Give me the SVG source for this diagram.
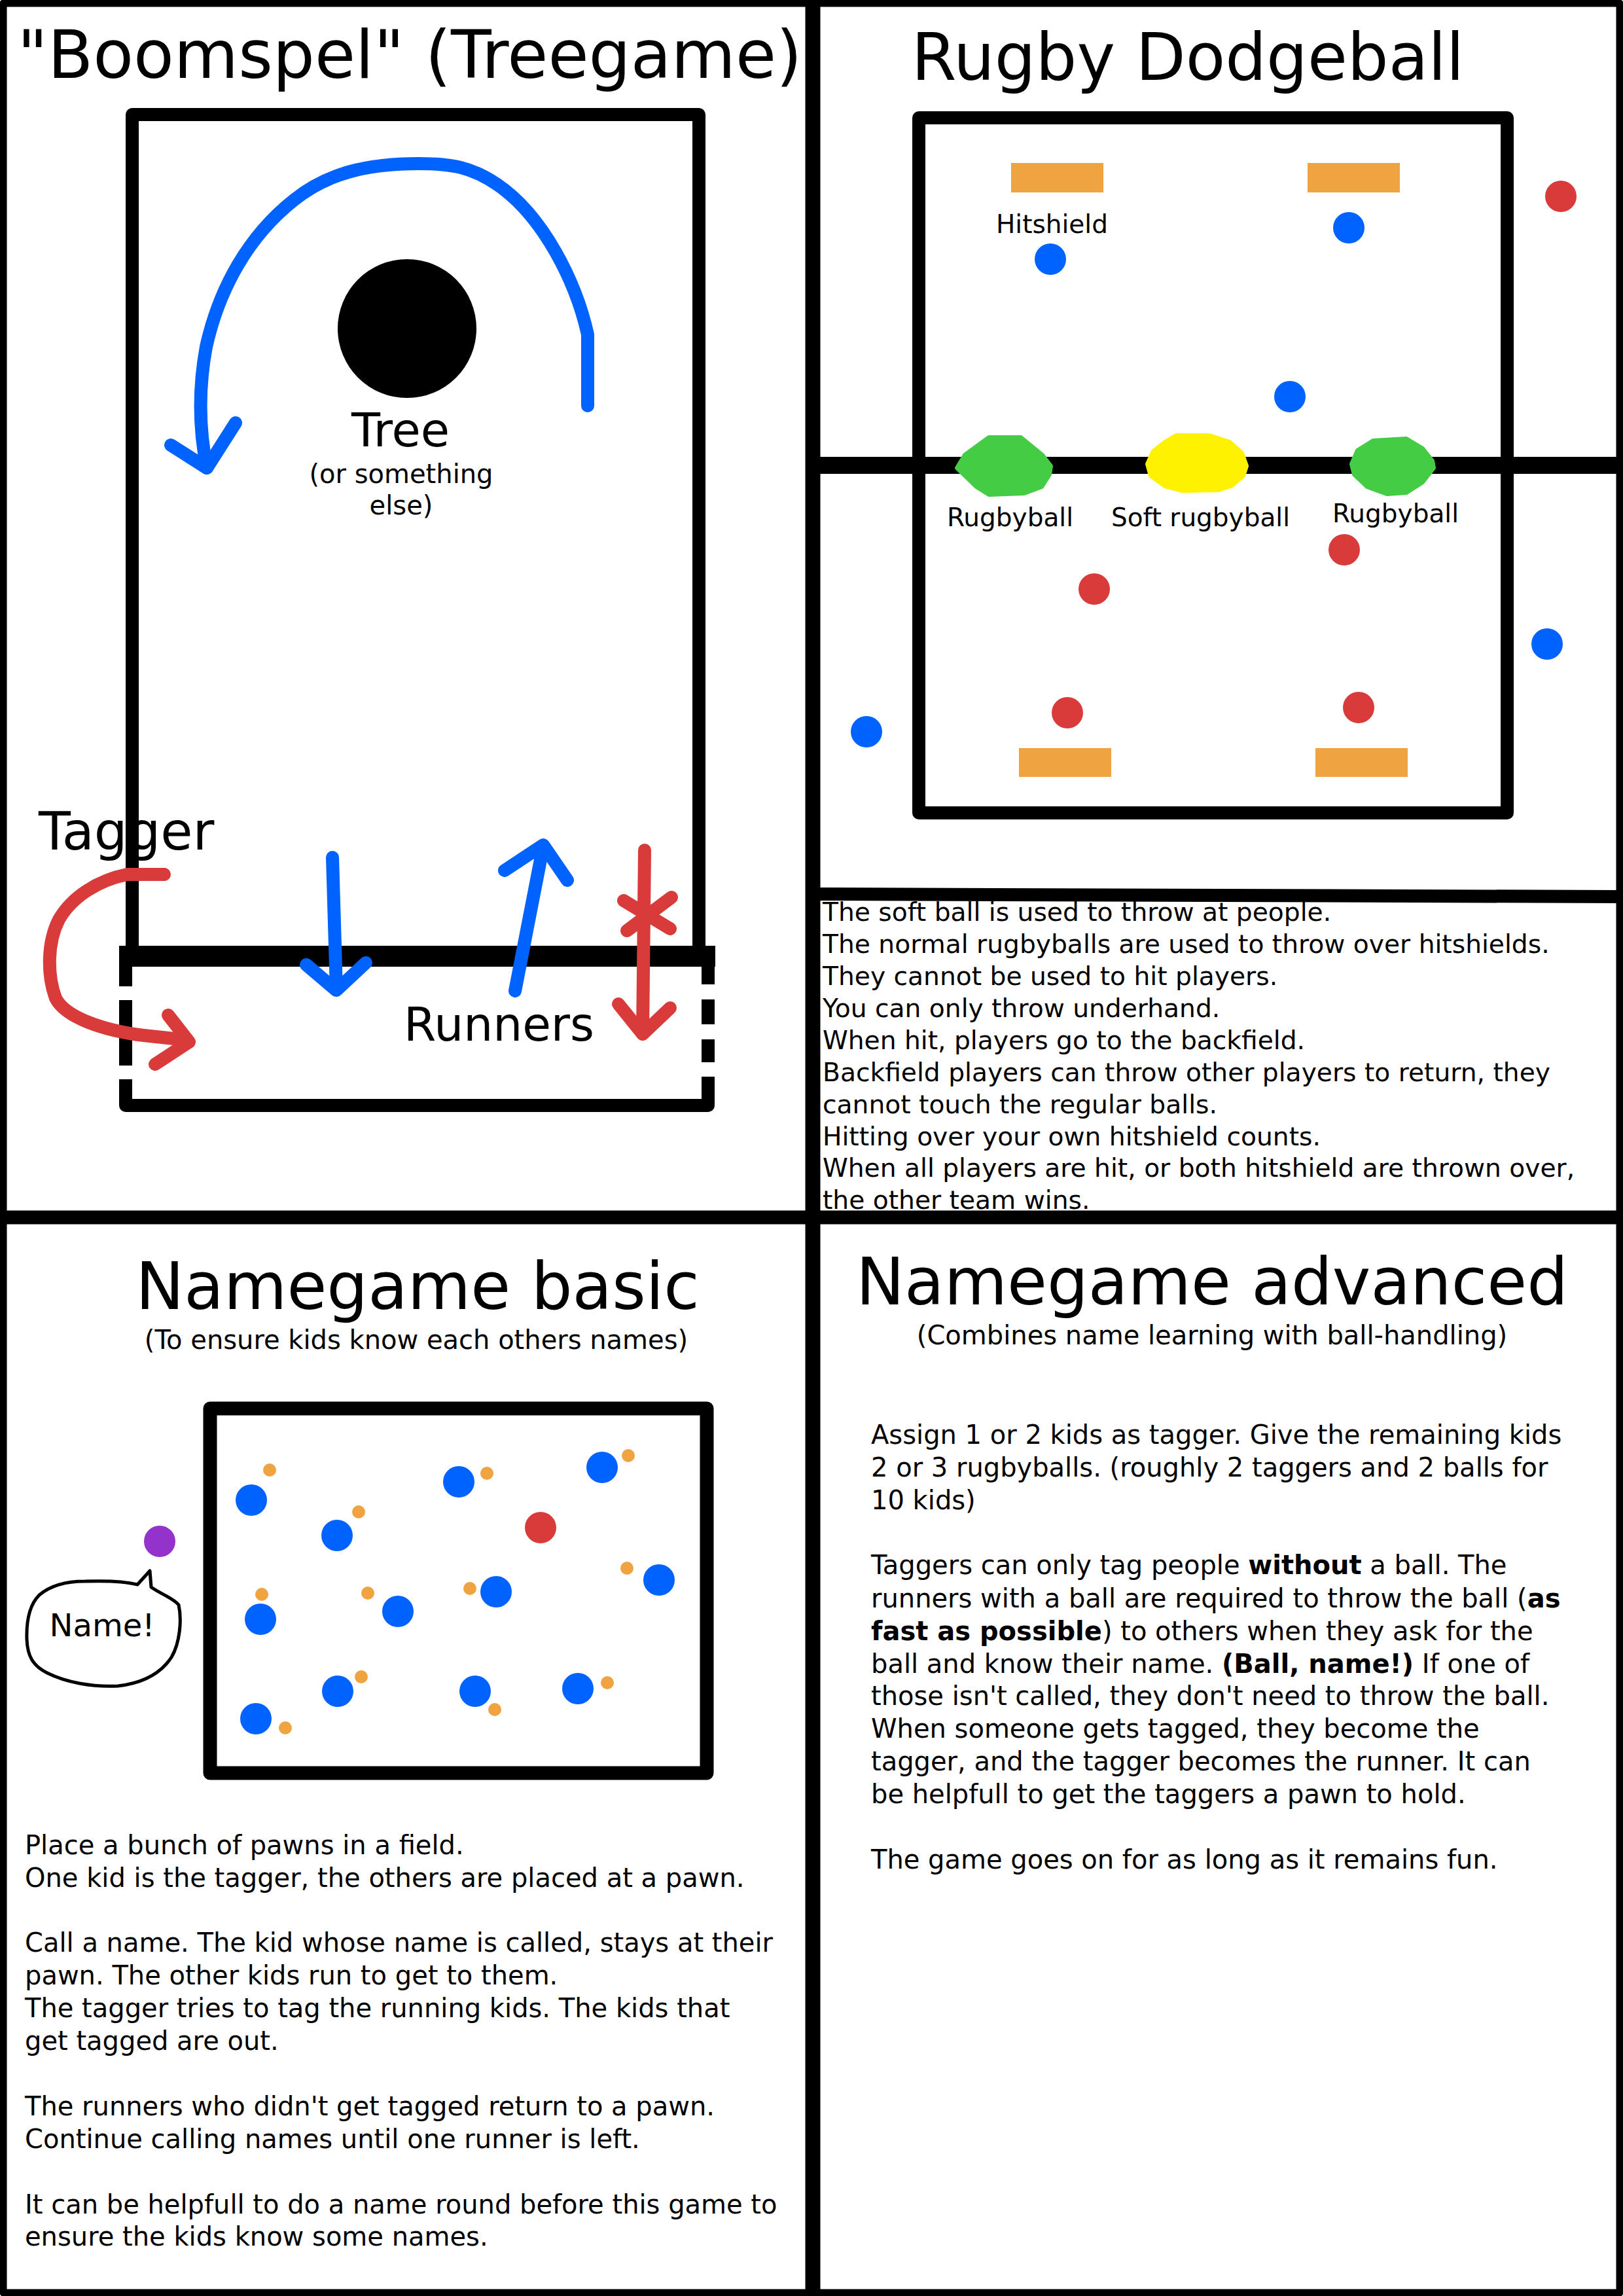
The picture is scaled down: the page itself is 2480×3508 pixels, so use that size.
<svg xmlns="http://www.w3.org/2000/svg" width="2480" height="3508" viewBox="0 0 2480 3508">
<style>
text{font-family:"DejaVu Sans","Liberation Sans",sans-serif;fill:#000}
.title{font-size:99px;text-anchor:middle}
.sub{font-size:40px;text-anchor:middle}
.lbl{font-size:39px}
.body{font-size:40px}
.rules{font-size:39.2px}
.ln{fill:none;stroke:#000;stroke-linejoin:round}
.blue{fill:none;stroke:#0062ff;stroke-width:20;stroke-linecap:round;stroke-linejoin:round}
.red{fill:none;stroke:#d93b3b;stroke-width:20;stroke-linecap:round;stroke-linejoin:round}
.pb{fill:#0062ff}
.pr{fill:#d93b3b}
.po{fill:#f0a441}
</style>
<rect x="0" y="0" width="2480" height="3508" fill="#fff"/>
<g id="frame">
<rect x="5" y="5" width="2470" height="3498" class="ln" stroke-width="11"/>
<line x1="1242" y1="0" x2="1242" y2="3508" stroke="#000" stroke-width="23"/>
<line x1="0" y1="1860" x2="2480" y2="1860" stroke="#000" stroke-width="21"/>
</g>

<g id="treegame">
<text class="title" x="626" y="119" font-size="101" style="font-size:101px">"Boomspel" (Treegame)</text>
<path class="ln" stroke-width="20" d="M202,1461 V175 H1068 V1461"/>
<line x1="182" y1="1461" x2="1093" y2="1461" stroke="#000" stroke-width="32"/>
<path class="ln" stroke-width="20" d="M192,1461 V1507 M192,1528 V1628 M192,1649 V1689 H1082 V1645 M1082,1461 V1504 M1082,1527 V1565 M1082,1588 V1623"/>
<circle cx="622" cy="502" r="106" fill="#000"/>
<text x="612" y="682" font-size="72" text-anchor="middle">Tree</text>
<text x="613" y="738" font-size="40" text-anchor="middle">(or something</text>
<text x="613" y="786" font-size="40" text-anchor="middle">else)</text>
<text x="59" y="1298" font-size="80">Tagger</text>
<text x="617" y="1590" font-size="71">Runners</text>
</g>

<g id="connectors">
<path class="blue" d="M898,620 L898,511 C880,430 830,330 760,282 C720,255 690,250 640,250 C560,250 500,265 450,305 C380,360 335,440 315,530 C302,600 305,660 316,715"/>
<path class="blue" d="M261,680 L316,715 L360,646"/>
<path class="red" d="M251,1336 L194,1336 C150,1345 110,1370 90,1405 C72,1440 72,1490 85,1525 C100,1555 160,1575 220,1582 L285,1589"/>
<path class="red" d="M257,1551 L289,1592 L237,1626"/>
<path class="blue" d="M508,1310 L514,1513 M468,1474 L514,1513 L559,1471"/>
<path class="blue" d="M787,1514 L830,1293 M771,1330 L830,1291 L867,1345"/>
<path class="red" d="M985,1299 L982,1580 M945,1534 L982,1580 L1024,1540 M953,1376 L1024,1419 M1026,1371 L958,1422"/>
</g>

<g id="rugby">
<text class="title" x="1815" y="122">Rugby Dodgeball</text>
<rect x="1404" y="180" width="899" height="1062" class="ln" stroke-width="20"/>
<line x1="1238" y1="711" x2="2480" y2="711" stroke="#000" stroke-width="26"/>
<line x1="1242" y1="1366" x2="2480" y2="1370" stroke="#000" stroke-width="20"/>
<rect class="po" x="1545" y="249" width="141" height="45"/>
<rect class="po" x="1998" y="249" width="141" height="45"/>
<rect class="po" x="1557" y="1143" width="141" height="44"/>
<rect class="po" x="2010" y="1143" width="141" height="44"/>
<text class="lbl" x="1522" y="356">Hitshield</text>
<circle class="pb" cx="1605" cy="396" r="24"/>
<circle class="pb" cx="2061" cy="348" r="24"/>
<circle class="pb" cx="1971" cy="606" r="24"/>
<circle class="pr" cx="2385" cy="300" r="24"/>
<circle class="pr" cx="2054" cy="840" r="24"/>
<circle class="pr" cx="1672" cy="900" r="24"/>
<circle class="pb" cx="2364" cy="984" r="24"/>
<circle class="pb" cx="1324" cy="1118" r="24"/>
<circle class="pr" cx="1631" cy="1089" r="24"/>
<circle class="pr" cx="2076" cy="1081" r="24"/>
<polygon fill="#44cc44" stroke="#44cc44" stroke-width="6" stroke-linejoin="round" points="1511,668 1560,668 1593,695 1606,712 1604,725 1592,744 1565,754 1511,756 1492,744 1462,715 1474,695"/>
<polygon fill="#fff200" stroke="#fff200" stroke-width="6" stroke-linejoin="round" points="1797,665 1848,665 1879,675 1898,692 1905,712 1900,727 1883,742 1862,749 1807,750 1780,743 1758,727 1753,709 1762,689 1780,675"/>
<polygon fill="#44cc44" stroke="#44cc44" stroke-width="6" stroke-linejoin="round" points="2098,673 2149,670 2174,685 2189,704 2191,715 2174,737 2149,753 2119,755 2089,744 2069,725 2065,709 2074,688"/>
<text class="lbl" x="1447" y="804">Rugbyball</text>
<text class="lbl" x="1698" y="804">Soft rugbyball</text>
<text class="lbl" x="2036" y="798">Rugbyball</text>
<text class="rules" x="1257">
<tspan x="1257" y="1407">The soft ball is used to throw at people.</tspan>
<tspan x="1257" y="1456">The normal rugbyballs are used to throw over hitshields.</tspan>
<tspan x="1257" y="1505">They cannot be used to hit players.</tspan>
<tspan x="1257" y="1554">You can only throw underhand.</tspan>
<tspan x="1257" y="1603">When hit, players go to the backfield.</tspan>
<tspan x="1257" y="1652">Backfield players can throw other players to return, they</tspan>
<tspan x="1257" y="1701">cannot touch the regular balls.</tspan>
<tspan x="1257" y="1750">Hitting over your own hitshield counts.</tspan>
<tspan x="1257" y="1798">When all players are hit, or both hitshield are thrown over,</tspan>
<tspan x="1257" y="1847">the other team wins.</tspan>
</text>
</g>

<g id="namegame-basic">
<text class="title" x="638" y="2000">Namegame basic</text>
<text class="sub" x="636" y="2061">(To ensure kids know each others names)</text>
<rect x="321" y="2152" width="759" height="557" class="ln" stroke-width="21"/>
<circle class="pb" cx="384" cy="2292" r="24"/>
<circle class="pb" cx="515" cy="2346" r="24"/>
<circle class="pb" cx="701" cy="2264" r="24"/>
<circle class="pb" cx="920" cy="2242" r="24"/>
<circle class="pb" cx="398" cy="2474" r="24"/>
<circle class="pb" cx="608" cy="2462" r="24"/>
<circle class="pb" cx="758" cy="2432" r="24"/>
<circle class="pb" cx="1007" cy="2414" r="24"/>
<circle class="pb" cx="391" cy="2626" r="24"/>
<circle class="pb" cx="516" cy="2584" r="24"/>
<circle class="pb" cx="726" cy="2584" r="24"/>
<circle class="pb" cx="883" cy="2580" r="24"/>
<circle class="pr" cx="826" cy="2334" r="24"/>
<circle class="po" cx="412" cy="2246" r="10"/>
<circle class="po" cx="744" cy="2251" r="10"/>
<circle class="po" cx="960" cy="2224" r="10"/>
<circle class="po" cx="548" cy="2310" r="10"/>
<circle class="po" cx="958" cy="2396" r="10"/>
<circle class="po" cx="400" cy="2436" r="10"/>
<circle class="po" cx="562" cy="2434" r="10"/>
<circle class="po" cx="718" cy="2427" r="10"/>
<circle class="po" cx="552" cy="2562" r="10"/>
<circle class="po" cx="928" cy="2571" r="10"/>
<circle class="po" cx="756" cy="2612" r="10"/>
<circle class="po" cx="436" cy="2640" r="10"/>
<circle fill="#9333cc" cx="244" cy="2355" r="24"/>
<path fill="none" stroke="#000" stroke-width="5" stroke-linejoin="round" d="M229,2400 L231,2425 C245,2435 265,2442 273,2452 C278,2475 275,2510 262,2532 C245,2558 215,2572 180,2576 C140,2578 100,2570 72,2556 C50,2545 42,2530 41,2505 C40,2475 45,2452 60,2437 C80,2420 105,2416 130,2416 C160,2415 190,2416 210,2421 Z"/>
<text x="156" y="2500" font-size="48" text-anchor="middle">Name!</text>
<text class="body">
<tspan x="38" y="2833">Place a bunch of pawns in a field.</tspan>
<tspan x="38" y="2883">One kid is the tagger, the others are placed at a pawn.</tspan>
<tspan x="38" y="2982">Call a name. The kid whose name is called, stays at their</tspan>
<tspan x="38" y="3032">pawn. The other kids run to get to them.</tspan>
<tspan x="38" y="3082">The tagger tries to tag the running kids. The kids that</tspan>
<tspan x="38" y="3132">get tagged are out.</tspan>
<tspan x="38" y="3232">The runners who didn't get tagged return to a pawn.</tspan>
<tspan x="38" y="3282">Continue calling names until one runner is left.</tspan>
<tspan x="38" y="3382">It can be helpfull to do a name round before this game to</tspan>
<tspan x="38" y="3431">ensure the kids know some names.</tspan>
</text>
</g>

<g id="namegame-advanced">
<text class="title" x="1852" y="1993">Namegame advanced</text>
<text class="sub" x="1852" y="2054">(Combines name learning with ball-handling)</text>
<text class="body">
<tspan x="1331" y="2206">Assign 1 or 2 kids as tagger. Give the remaining kids</tspan>
<tspan x="1331" y="2256">2 or 3 rugbyballs. (roughly 2 taggers and 2 balls for</tspan>
<tspan x="1331" y="2306">10 kids)</tspan>
<tspan x="1331" y="2405">Taggers can only tag people <tspan font-weight="bold">without</tspan> a ball. The</tspan>
<tspan x="1331" y="2456">runners with a ball are required to throw the ball (<tspan font-weight="bold">as</tspan></tspan>
<tspan x="1331" y="2506"><tspan font-weight="bold">fast as possible</tspan>) to others when they ask for the</tspan>
<tspan x="1331" y="2556">ball and know their name. <tspan font-weight="bold">(Ball, name!)</tspan> If one of</tspan>
<tspan x="1331" y="2605">those isn't called, they don't need to throw the ball.</tspan>
<tspan x="1331" y="2655">When someone gets tagged, they become the</tspan>
<tspan x="1331" y="2705">tagger, and the tagger becomes the runner. It can</tspan>
<tspan x="1331" y="2755">be helpfull to get the taggers a pawn to hold.</tspan>
<tspan x="1331" y="2855">The game goes on for as long as it remains fun.</tspan>
</text>
</g>
</svg>
